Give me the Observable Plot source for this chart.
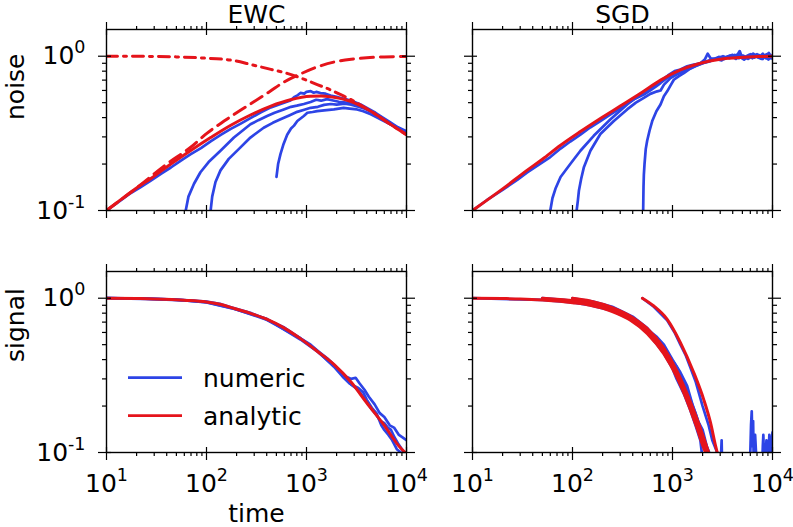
<!DOCTYPE html>
<html><head><meta charset="utf-8">
<script src="https://cdn.jsdelivr.net/npm/d3@7"></script>
<script src="https://cdn.jsdelivr.net/npm/@observablehq/plot@0.6"></script>
<style>
body{margin:0;background:#fff;}
#chart{position:relative;width:793px;height:527px;}
</style></head><body><div id="chart"></div>
<script>
// ---------- categories & tick labels ----------
const methods = ["EWC", "SGD"];
const quantities = ["noise", "signal"];
const xMajor = [10, 100, 1000, 10000];
const xMinor = [20,30,40,50,60,70,80,90,200,300,400,500,600,700,800,900,2000,3000,4000,5000,6000,7000,8000,9000];
const yMajor = [0.1, 1];
const yMinor = [0.2,0.3,0.4,0.5,0.6,0.7,0.8,0.9];
const legendLabels = ["numeric", "analytic"];

// ---------- EWC / noise ----------
const ewcNoiseAnalytic = [[10,0.1],[15,0.122],[20,0.14],[28,0.162],[44,0.2],[69,0.244],[110,0.297],[175,0.357],[275,0.416],[440,0.475],[690,0.522],[1100,0.55],[1400,0.552],[1750,0.545],[2750,0.51],[4400,0.44],[6900,0.362],[10000,0.31]];
const ewcNoiseDashed = [[10,0.1],[20,0.14],[40,0.2],[70,0.258],[100,0.315],[150,0.38],[200,0.43],[300,0.508],[420,0.585],[600,0.682],[900,0.775],[1300,0.855],[1900,0.918],[2800,0.956],[4000,0.977],[6000,0.99],[10000,0.997]];
const ewcNoiseDashDot = [[10,1.0],[30,0.997],[50,0.99],[90,0.975],[190,0.935],[275,0.885],[440,0.822],[640,0.774],[940,0.71],[1280,0.655],[1740,0.605],[2200,0.563],[3000,0.51],[4400,0.44],[7000,0.36],[10000,0.31]];
const ewcNoiseNum1 = [[10,0.1],[13,0.113],[17,0.128],[22,0.142],[28,0.157],[35,0.173],[44,0.19],[55,0.21],[69,0.231],[88,0.254],[110,0.281],[140,0.31],[175,0.338],[220,0.366],[275,0.397],[350,0.433],[440,0.466],[550,0.49],[690,0.517],[760,0.545],[820,0.56],[870,0.578],[950,0.572],[1000,0.588],[1100,0.594],[1180,0.58],[1250,0.587],[1380,0.577],[1550,0.572],[1740,0.556],[2000,0.546],[2200,0.535],[2450,0.528],[2900,0.51],[3470,0.487],[4100,0.458],[4900,0.43],[5800,0.4],[6900,0.372],[8200,0.346],[10000,0.326]];
const ewcNoiseNum2 = [[62,0.1],[66,0.123],[75,0.149],[87,0.177],[105,0.206],[138,0.244],[188,0.297],[230,0.33],[275,0.362],[330,0.385],[404,0.41],[480,0.43],[593,0.452],[700,0.47],[800,0.478],[940,0.49],[1100,0.505],[1250,0.522],[1400,0.515],[1600,0.527],[1800,0.518],[2100,0.507],[2500,0.5],[2900,0.49],[3500,0.476],[4200,0.447],[5000,0.42],[6000,0.39],[7200,0.36],[8500,0.34],[10000,0.32]];
const ewcNoiseNum3 = [[110,0.1],[114,0.123],[123,0.153],[138,0.182],[167,0.216],[210,0.25],[275,0.297],[373,0.344],[460,0.37],[550,0.39],[680,0.415],[807,0.436],[950,0.45],[1100,0.463],[1300,0.47],[1500,0.484],[1750,0.49],[2000,0.486],[2400,0.492],[2800,0.485],[3300,0.47],[3900,0.455],[4600,0.43],[5500,0.4],[6500,0.372],[8000,0.345],[10000,0.318]];
const ewcNoiseNum4 = [[501,0.165],[520,0.2],[550,0.233],[590,0.27],[641,0.31],[700,0.34],[750,0.355],[810,0.38],[940,0.41],[1020,0.43],[1150,0.435],[1280,0.441],[1500,0.446],[1880,0.452],[2350,0.463],[2700,0.458],[3200,0.452],[3700,0.44],[4400,0.42],[5500,0.39],[6900,0.362],[8300,0.34],[10000,0.31]];

// ---------- SGD / noise ----------
const sgdNoiseAnalytic = [[10,0.1],[20,0.138],[35,0.182],[50,0.215],[76,0.265],[120,0.325],[190,0.395],[300,0.475],[480,0.575],[760,0.7],[1200,0.815],[1900,0.9],[3000,0.955],[4800,0.982],[7600,0.995],[10000,1.0]];
const sgdNoiseNum1 = [[10,0.1],[14,0.117],[20,0.136],[28,0.158],[35,0.176],[45,0.196],[60,0.222],[76,0.252],[95,0.28],[120,0.31],[150,0.345],[190,0.38],[240,0.42],[300,0.46],[380,0.51],[480,0.56],[560,0.59],[650,0.64],[760,0.69],[900,0.75],[1050,0.8],[1200,0.82],[1400,0.86],[1600,0.88],[1900,0.9],[2100,0.95],[2250,1.04],[2400,0.97],[2700,0.96],[3000,0.98],[3300,0.96],[3600,1.0],[4000,0.98],[4500,1.03],[4700,1.08],[4900,1.0],[5300,0.99],[5800,1.02],[6300,0.97],[6800,1.01],[7300,0.98],[8000,1.04],[8600,0.97],[9200,1.05],[9600,0.98],[10000,1.0]];
const sgdNoiseNum2 = [[60,0.1],[63,0.12],[68,0.14],[76,0.165],[95,0.2],[120,0.244],[163,0.305],[240,0.39],[352,0.487],[420,0.53],[517,0.564],[600,0.6],[680,0.635],[759,0.67],[850,0.71],[1000,0.76],[1200,0.81],[1500,0.86],[1800,0.89],[2100,0.92],[2500,0.95],[2900,0.99],[3300,0.97],[3800,1.01],[4300,0.96],[4800,1.02],[5400,0.97],[6000,1.03],[6600,0.98],[7300,1.02],[8000,0.96],[8800,1.03],[9400,0.97],[10000,0.99]];
const sgdNoiseNum3 = [[110,0.1],[113,0.115],[116,0.135],[122,0.16],[130,0.191],[151,0.244],[190,0.313],[259,0.38],[352,0.452],[430,0.5],[517,0.537],[600,0.57],[703,0.592],[760,0.6],[822,0.654],[955,0.721],[1100,0.76],[1300,0.8],[1600,0.85],[2000,0.9],[2400,0.93],[2800,0.97],[3200,1.0],[3700,0.97],[4200,1.02],[4700,0.99],[5200,0.95],[5800,1.0],[6400,1.04],[7000,0.99],[7800,0.96],[8500,1.02],[9200,1.04],[10000,0.96]];
const sgdNoiseNum4 = [[509,0.1],[511,0.12],[513,0.142],[517,0.17],[525,0.2],[540,0.25],[558,0.283],[590,0.33],[627,0.38],[690,0.44],[759,0.487],[820,0.55],[885,0.592],[960,0.65],[1031,0.704],[1150,0.74],[1298,0.776],[1500,0.83],[1750,0.87],[2000,0.9],[2300,0.93],[2700,0.96],[3100,0.94],[3500,0.99],[4000,1.02],[4600,0.97],[5100,1.01],[5700,0.96],[6300,1.0],[7000,1.03],[7700,0.97],[8400,1.0],[9100,0.95],[10000,1.02]];

// ---------- EWC / signal ----------
const ewcSignalAnalytic = [[10,1.0],[20,0.995],[30,0.99],[45,0.98],[60,0.97],[100,0.946],[140,0.91],[190,0.857],[280,0.795],[400,0.731],[600,0.64],[870,0.547],[1300,0.45],[1880,0.373],[2800,0.285],[4000,0.21],[5900,0.152],[8400,0.11],[10000,0.098]];
const ewcSignalNum1 = [[10,1.0],[20,0.996],[35,0.988],[60,0.972],[100,0.952],[140,0.915],[190,0.86],[280,0.8],[400,0.728],[600,0.645],[870,0.55],[1100,0.5],[1300,0.455],[1600,0.41],[1880,0.37],[2200,0.335],[2500,0.31],[2800,0.3],[3100,0.305],[3400,0.28],[3800,0.255],[4200,0.23],[4800,0.205],[5400,0.18],[6000,0.17],[6800,0.15],[7500,0.145],[8400,0.13],[9200,0.125],[10000,0.12]];
const ewcSignalNum2 = [[10,1.0],[25,0.993],[50,0.978],[100,0.94],[190,0.852],[400,0.735],[870,0.54],[1300,0.448],[1880,0.365],[2200,0.33],[2500,0.3],[2800,0.275],[3100,0.262],[3500,0.24],[4000,0.212],[4500,0.19],[5000,0.175],[5500,0.16],[6000,0.155],[6500,0.145],[7000,0.14],[7600,0.125],[8200,0.115],[9000,0.105],[10000,0.095]];
const ewcSignalNum3 = [[10,1.0],[30,0.988],[60,0.968],[100,0.944],[190,0.855],[400,0.725],[870,0.55],[1300,0.452],[1880,0.36],[2300,0.31],[2700,0.28],[3000,0.27],[3300,0.262],[3700,0.245],[4000,0.22],[4500,0.195],[5000,0.18],[5600,0.15],[6000,0.14],[6600,0.13],[7200,0.12],[8000,0.105],[8800,0.1],[9400,0.092],[10000,0.088]];

// ---------- SGD / signal ----------
const sgdSignalAnalytic1 = [[10,1.0],[20,0.995],[30,0.99],[50,0.975],[75,0.955],[100,0.935],[150,0.9],[250,0.82],[380,0.72],[560,0.59],[820,0.435],[1100,0.31],[1400,0.215],[1750,0.145],[2100,0.103],[2150,0.1]];
const sgdSignalAnalytic2 = [[50,1.0],[75,0.98],[100,0.965],[150,0.925],[250,0.84],[380,0.74],[560,0.61],[820,0.455],[1100,0.325],[1400,0.228],[1800,0.15],[2200,0.1]];
const sgdSignalAnalytic3 = [[100,1.0],[150,0.96],[250,0.87],[380,0.765],[560,0.635],[820,0.475],[1100,0.34],[1400,0.24],[1800,0.158],[2300,0.1]];
const sgdSignalAnalytic4 = [[500,1.0],[650,0.89],[885,0.73],[1200,0.516],[1630,0.33],[2050,0.221],[2400,0.156],[2700,0.11],[2800,0.1]];
const sgdSignalNum1 = [[10,1.0],[50,0.975],[100,0.94],[150,0.9],[250,0.83],[380,0.73],[560,0.6],[820,0.44],[1000,0.35],[1100,0.3],[1300,0.24],[1500,0.19],[1700,0.15],[1900,0.12],[2000,0.09],[2100,0.06],[2500,0.04],[5800,0.05],[6000,0.1],[6100,0.15],[6200,0.185],[6300,0.11],[6400,0.16],[6500,0.08],[6700,0.13],[6900,0.09],[7100,0.05],[7800,0.06],[8000,0.11],[8100,0.13],[8300,0.07],[8700,0.12],[8900,0.06],[9300,0.13],[9600,0.1],[10000,0.135]];
const sgdSignalNum2 = [[50,1.0],[80,0.975],[120,0.95],[180,0.9],[260,0.85],[380,0.75],[560,0.63],[700,0.56],[820,0.5],[1000,0.4],[1200,0.33],[1400,0.27],[1600,0.2],[1800,0.16],[2000,0.14],[2200,0.11],[2400,0.095],[2600,0.08]];
const sgdSignalNum3 = [[100,1.0],[160,0.95],[250,0.88],[400,0.76],[560,0.64],[820,0.48],[1100,0.36],[1250,0.3],[1400,0.25],[1700,0.18],[2000,0.13],[2300,0.1],[2600,0.08]];
const sgdSignalNum4 = [[500,1.0],[650,0.88],[885,0.72],[1050,0.6],[1200,0.5],[1350,0.43],[1500,0.36],[1700,0.29],[2000,0.2],[2300,0.15],[2500,0.12],[2800,0.1],[2900,0.085],[3000,0.07],[3100,0.12],[3150,0.07],[3300,0.05]];

// ---------- assemble table ----------
const series = [
  {method:"EWC", quantity:"noise", kind:"numeric", pts: ewcNoiseNum1},
  {method:"EWC", quantity:"noise", kind:"numeric", pts: ewcNoiseNum2},
  {method:"EWC", quantity:"noise", kind:"numeric", pts: ewcNoiseNum3},
  {method:"EWC", quantity:"noise", kind:"numeric", pts: ewcNoiseNum4},
  {method:"EWC", quantity:"noise", kind:"analytic", pts: ewcNoiseAnalytic},
  {method:"EWC", quantity:"noise", kind:"dashed", pts: ewcNoiseDashed},
  {method:"EWC", quantity:"noise", kind:"dashdot", pts: ewcNoiseDashDot},
  {method:"SGD", quantity:"noise", kind:"numeric", pts: sgdNoiseNum1},
  {method:"SGD", quantity:"noise", kind:"numeric", pts: sgdNoiseNum2},
  {method:"SGD", quantity:"noise", kind:"numeric", pts: sgdNoiseNum3},
  {method:"SGD", quantity:"noise", kind:"numeric", pts: sgdNoiseNum4},
  {method:"SGD", quantity:"noise", kind:"analytic", pts: sgdNoiseAnalytic},
  {method:"EWC", quantity:"signal", kind:"numeric", pts: ewcSignalNum1},
  {method:"EWC", quantity:"signal", kind:"numeric", pts: ewcSignalNum2},
  {method:"EWC", quantity:"signal", kind:"numeric", pts: ewcSignalNum3},
  {method:"EWC", quantity:"signal", kind:"analytic", pts: ewcSignalAnalytic},
  {method:"SGD", quantity:"signal", kind:"numeric", pts: sgdSignalNum1},
  {method:"SGD", quantity:"signal", kind:"numeric", pts: sgdSignalNum2},
  {method:"SGD", quantity:"signal", kind:"numeric", pts: sgdSignalNum3},
  {method:"SGD", quantity:"signal", kind:"numeric", pts: sgdSignalNum4},
  {method:"SGD", quantity:"signal", kind:"analytic", pts: sgdSignalAnalytic1},
  {method:"SGD", quantity:"signal", kind:"analytic", pts: sgdSignalAnalytic2},
  {method:"SGD", quantity:"signal", kind:"analytic", pts: sgdSignalAnalytic3},
  {method:"SGD", quantity:"signal", kind:"analytic", pts: sgdSignalAnalytic4}
];
const rows = series.flatMap((s, k) => s.pts.map(([t, v]) => ({id: k, method: s.method, quantity: s.quantity, kind: s.kind, t, v})));
const byKind = k => rows.filter(d => d.kind === k);

const BLUE = "#2d44e6", RED = "#e5141b";
const FONT = "DejaVu Sans, sans-serif";
const lineBase = {x: "t", y: "v", z: "id", fx: "method", fy: "quantity", clip: true};
const tk = {facetAnchor: null, fill: "none", stroke: "black", strokeWidth: 1.2, label: null};
const sup = d => "10^" + Math.round(Math.log10(d));

const plot = Plot.plot({
  width: 793, height: 527,
  marginLeft: 106, marginRight: 21, marginTop: 28, marginBottom: 74,
  style: {fontFamily: FONT, fontSize: "25px", background: "white", color: "black"},
  x: {type: "log", domain: [10, 10000]},
  y: {type: "log", domain: [0.1, 1.49]},
  fx: {domain: methods, paddingInner: 0.18033, paddingOuter: 0, axis: null, label: null},
  fy: {domain: quantities, paddingInner: 0.251, paddingOuter: 0, axis: null, label: null},
  marks: [
    Plot.line(byKind("numeric"), {...lineBase, stroke: BLUE, strokeWidth: 2.7, strokeLinejoin: "round"}),
    Plot.line(byKind("analytic"), {...lineBase, stroke: RED, strokeWidth: 3, curve: "monotone-x"}),
    Plot.line(byKind("dashed"), {...lineBase, stroke: RED, strokeWidth: 3, curve: "monotone-x", strokeDasharray: "13,7"}),
    Plot.line(byKind("dashdot"), {...lineBase, stroke: RED, strokeWidth: 3, curve: "monotone-x", strokeDasharray: "11,6,3,6"}),
    Plot.frame({stroke: "black", strokeWidth: 1.4}),
    // tick marks on all four sides of every panel
    Plot.axisX({...tk, anchor: "bottom", ticks: xMajor, tickSize: 8}),
    Plot.axisX({...tk, anchor: "bottom", ticks: xMajor, tickSize: -5}),
    Plot.axisX({...tk, anchor: "bottom", ticks: xMinor, tickSize: 4}),
    Plot.axisX({...tk, anchor: "top", ticks: xMajor, tickSize: 8}),
    Plot.axisX({...tk, anchor: "top", ticks: xMajor, tickSize: -5}),
    Plot.axisX({...tk, anchor: "top", ticks: xMinor, tickSize: 4}),
    Plot.axisY({...tk, anchor: "left", ticks: yMajor, tickSize: 8}),
    Plot.axisY({...tk, anchor: "left", ticks: yMajor, tickSize: -5}),
    Plot.axisY({...tk, anchor: "left", ticks: yMinor, tickSize: 4}),
    Plot.axisY({...tk, anchor: "right", ticks: yMajor, tickSize: 8}),
    Plot.axisY({...tk, anchor: "right", ticks: yMajor, tickSize: -5}),
    Plot.axisY({...tk, anchor: "right", ticks: yMinor, tickSize: 4}),
    // tick labels
    Plot.axisX({anchor: "bottom", ticks: xMajor, tickSize: 0, tickPadding: 22, tickFormat: sup, fontSize: 25, label: null}),
    Plot.axisY({anchor: "left", ticks: yMajor, tickSize: 0, tickPadding: 21, tickFormat: sup, fontSize: 25, label: null}),
    // titles and axis labels
    Plot.text(methods, {fx: d => d, fy: () => "noise", text: d => d, frameAnchor: "top", lineAnchor: "bottom", dy: -7, fontSize: 25}),
    Plot.text(quantities, {fx: () => "EWC", fy: d => d, text: d => d, frameAnchor: "left", rotate: -90, dx: -91, fontSize: 25}),
    Plot.text(["time"], {fx: () => "EWC", fy: () => "signal", text: d => d, frameAnchor: "bottom", lineAnchor: "bottom", dy: 69, fontSize: 25})
  ]
});

// superscript exponents on tick labels
d3.select(plot).selectAll("text").each(function() {
  const m = /^10\^(-?\d+)$/.exec(this.textContent);
  if (m) {
    const el = d3.select(this);
    el.text("10");
    el.append("tspan").attr("dy", "-11").attr("font-size", "17.5").text(m[1]);
  }
});

// legend inside the lower-left panel
const leg = d3.select(plot).append("g").attr("font-family", FONT).attr("font-size", 25).attr("fill", "black").attr("text-anchor", "start");
[[BLUE, 377.7], [RED, 415.7]].forEach(([c, y], i) => {
  leg.append("line").attr("x1", 128).attr("x2", 182).attr("y1", y).attr("y2", y).attr("stroke", c).attr("stroke-width", 2.7);
  leg.append("text").attr("x", 203).attr("y", y + 9.5).attr("text-anchor", "start").text(legendLabels[i]);
});

document.getElementById("chart").append(plot);
</script>
</body></html>
